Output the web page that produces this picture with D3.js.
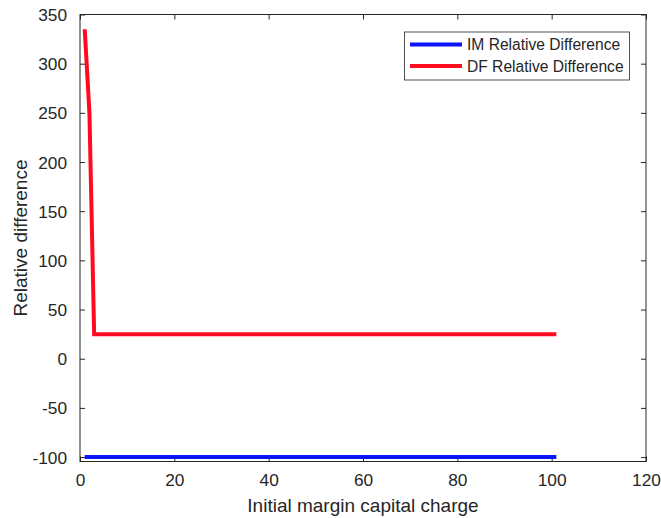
<!DOCTYPE html>
<html>
<head>
<meta charset="utf-8">
<script src="https://cdn.jsdelivr.net/npm/d3@7"></script>
<style>
  html, body { margin: 0; padding: 0; background: #fff; }
  svg { display: block; font-family: "Liberation Sans", Arial, sans-serif; }
</style>
</head>
<body>
<svg id="chart" width="661" height="518"></svg>
<script>
// Series breakpoints: initial margin capital charge vs. relative difference
const imX = [1, 101];
const imY = [-100, -100];
const dfX = [1, 2, 3, 101];
const dfY = [335, 250, 25, 25];

const seriesNames = ["IM Relative Difference", "DF Relative Difference"];
const seriesColors = ["#0a14ff", "#ff0a1e"];

const xTicks = [0, 20, 40, 60, 80, 100, 120];
const yTicks = [-100, -50, 0, 50, 100, 150, 200, 250, 300, 350];

const xTitle = "Initial margin capital charge";
const yTitle = "Relative difference";

const svg = d3.select("#chart");
const margin = { left: 80, right: 15, top: 14.5, bottom: 56.5 };
const W = 661, H = 518;
const axisColor = "#262626";

const x = d3.scaleLinear().domain([0, 120]).range([margin.left, W - margin.right]);
const y = d3.scaleLinear().domain([-104.5, 350]).range([H - margin.bottom, margin.top]);

// Plain hyphen-minus for negative tick labels
const plain = d => String(d);

// Axes box (ticks point inward, mirrored on all sides)
const tickLen = 5;
const g = svg.append("g");

g.append("rect")
  .attr("x", x.range()[0]).attr("y", y.range()[1])
  .attr("width", x.range()[1] - x.range()[0])
  .attr("height", y.range()[0] - y.range()[1])
  .attr("fill", "none").attr("stroke", axisColor).attr("stroke-width", 1);

const axBottom = g.append("g").attr("transform", `translate(0,${y.range()[0]})`)
  .call(d3.axisBottom(x).tickValues(xTicks).tickFormat(plain).tickSizeInner(-tickLen).tickSizeOuter(0).tickPadding(12));
const axTop = g.append("g").attr("transform", `translate(0,${y.range()[1]})`)
  .call(d3.axisTop(x).tickValues(xTicks).tickSizeInner(-tickLen).tickSizeOuter(0).tickFormat(""));
const axLeft = g.append("g").attr("transform", `translate(${x.range()[0]},0)`)
  .call(d3.axisLeft(y).tickValues(yTicks).tickFormat(plain).tickSizeInner(-tickLen).tickSizeOuter(0).tickPadding(13));
const axRight = g.append("g").attr("transform", `translate(${x.range()[1]},0)`)
  .call(d3.axisRight(y).tickValues(yTicks).tickSizeInner(-tickLen).tickSizeOuter(0).tickFormat(""));

[axBottom, axTop, axLeft, axRight].forEach(a => {
  a.select(".domain").remove();
  a.selectAll(".tick line").attr("stroke", axisColor);
  a.selectAll(".tick text")
    .attr("fill", axisColor)
    .style("font-size", "17.3px")
    .style("font-family", "'Liberation Sans', Arial, sans-serif");
});
axLeft.selectAll(".tick text").attr("dy", "0.35em");

// Lines
const line = d3.line().x(d => x(d[0])).y(d => y(d[1]));
const series = [
  d3.zip(imX, imY),
  d3.zip(dfX, dfY)
];
series.forEach((pts, i) => {
  svg.append("path")
    .datum(pts)
    .attr("d", line)
    .attr("fill", "none")
    .attr("stroke", seriesColors[i])
    .attr("stroke-width", 4)
    .attr("stroke-linejoin", "miter")
    .attr("stroke-linecap", "butt");
});

// Axis titles
svg.append("text")
  .attr("x", (x.range()[0] + x.range()[1]) / 2)
  .attr("y", 511.5)
  .attr("text-anchor", "middle")
  .attr("fill", axisColor)
  .style("font-size", "19px")
  .text(xTitle);

svg.append("text")
  .attr("transform", `translate(27,${(y.range()[0] + y.range()[1]) / 2}) rotate(-90)`)
  .attr("text-anchor", "middle")
  .attr("fill", axisColor)
  .style("font-size", "19px")
  .text(yTitle);

// Legend
const lg = svg.append("g").attr("transform", "translate(404.5,32)");
lg.append("rect")
  .attr("width", 225).attr("height", 48)
  .attr("fill", "#fff").attr("stroke", axisColor).attr("stroke-width", 0.8);
seriesNames.forEach((name, i) => {
  const cy = 12.5 + i * 21.5;
  lg.append("line")
    .attr("x1", 5.5).attr("x2", 57.5)
    .attr("y1", cy).attr("y2", cy)
    .attr("stroke", seriesColors[i]).attr("stroke-width", 4);
  lg.append("text")
    .attr("x", 62.5).attr("y", cy)
    .attr("dy", "0.36em")
    .attr("fill", axisColor)
    .style("font-size", "15.6px")
    .text(name);
});
</script>
</body>
</html>
